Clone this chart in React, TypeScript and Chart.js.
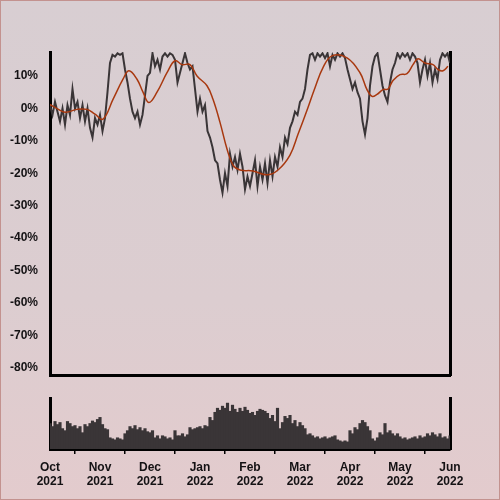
import React, { useEffect, useRef } from "react";
import { Chart, registerables } from "chart.js";

Chart.register(...registerables);

// month tick labels (x in month units from Oct 1 2021)
const MONTH_TICKS = [0, 1, 2, 3, 4, 5, 6, 7, 8];
const MONTHS = ["Oct", "Nov", "Dec", "Jan", "Feb", "Mar", "Apr", "May", "Jun"];
const YEARS = ["2021", "2021", "2021", "2022", "2022", "2022", "2022", "2022", "2022"];
const Y_TICKS = [10, 0, -10, -20, -30, -40, -50, -60, -70, -80];
const Y_MIN = -82.5;
const Y_MAX = 17.4;
const POINT_STEP = 0.05; // months between samples

// return series (%)
const RETURNS = [
  1, -2, 2, -1, -4, 0, -5, 1, -2, 6,
  0, 2, -3, 1, -4, 0, -6, -9, -3, -5,
  -2, -7, -3, 5, 14, 16.5, 16, 17, 16.5, 17,
  12, 8, 3, -1, -3, -1, -5, -2, 4, 10,
  11, 17, 13, 15, 12, 16, 17, 16, 17, 16.5,
  15, 8, 11, 14, 17, 14, 12, 13, 6, -1,
  3, -1, 1, -7, -9, -12, -16, -17, -22, -26,
  -20, -24, -14, -18, -15, -19, -14, -18, -25, -21,
  -24, -20, -16, -24, -18, -22, -17, -23, -16, -21,
  -15, -18, -12, -15, -9, -11, -6, -4, -1, -2,
  2, 3, 6, 12, 16.5, 17, 15, 17, 16, 17,
  15.5, 17, 13, 16.5, 15, 17, 16, 17, 15.5, 12,
  9, 6, 8, 5, 3, -4, -8, -3, 7, 13,
  16, 17, 12, 7, 4, 2, 8, 12, 14, 17,
  15.5, 17, 16, 17, 15, 17, 16, 14, 8, 12,
  15, 10, 14, 8, 12, 9, 15, 17, 16, 17,
  14,
];

// moving average (%)
const AVG_X = [
  0, 0.1, 0.3, 0.54, 0.74, 0.9, 1.06, 1.26, 1.46, 1.58,
  1.74, 1.86, 1.98, 2.14, 2.34, 2.5, 2.64, 2.8, 2.94, 3.14,
  3.26, 3.4, 3.54, 3.66, 3.8, 4.06, 4.34, 4.56, 4.8, 4.96,
  5.16, 5.3, 5.46, 5.64, 5.94, 6.2, 6.34, 6.44, 6.54, 6.66,
  6.76, 6.86, 7.0, 7.14, 7.26, 7.36, 7.5, 7.66, 7.76, 7.86,
  7.96,
];
const AVG_Y = [
  1.2, 0.3, -1.2, -0.3, -0.3, -1.8, -3.3, 2.8, 9, 11.6,
  9, 5, 1.8, 5, 11, 14.7, 13.5, 13.5, 10, 7,
  2.8, -4.3, -12.5, -17.5, -19, -19.3, -20.5, -19, -14.4, -8,
  0.3, 6.4, 12.6, 16.2, 15.6, 11, 5.8, 3.7, 4.3, 5.8,
  6, 8.6, 10.4, 10.7, 13.5, 15.3, 14, 13.5, 12, 11.6,
  13,
];

// volume (relative, 0-100)
const VOLUME = [
  50, 44, 54, 48, 52, 40, 36, 54, 50, 44,
  46, 40, 44, 32, 48, 44, 50, 55, 52, 58,
  62, 48, 40, 38, 22, 20, 18, 22, 20, 18,
  30, 36, 44, 40, 46, 38, 42, 36, 40, 34,
  32, 36, 22, 26, 20, 26, 24, 20, 22, 18,
  36, 26, 26, 30, 24, 28, 42, 38, 40, 42,
  44, 40, 46, 44, 62, 56, 72, 80, 76, 84,
  80, 90, 74, 86, 78, 72, 80, 74, 82, 76,
  70, 72, 66, 74, 78, 76, 74, 70, 60, 66,
  54, 80, 40, 52, 64, 60, 66, 50, 56, 44,
  52, 46, 40, 28, 30, 26, 22, 24, 20, 22,
  24, 20, 22, 24, 26, 18, 16, 14, 16, 14,
  36, 30, 42, 38, 50, 56, 52, 44, 36, 20,
  16, 22, 32, 28, 50, 32, 36, 30, 26, 30,
  24, 20, 22, 18, 20, 22, 24, 20, 26, 22,
  24, 30, 26, 32, 28, 24, 30, 22, 24, 20,
  26,
];

const FONT = { family: "'Liberation Sans', Arial, sans-serif", size: 12, weight: "bold" as const };
const TEXT = "#141214";
const DARK = "#3a3537";
const RED = "#a8380f";

const fixWidth = (w: number) => (s: any) => {
  s.width = w;
};

export default function App() {
  const mainRef = useRef<HTMLCanvasElement>(null);
  const volRef = useRef<HTMLCanvasElement>(null);

  useEffect(() => {
    const main = new Chart(mainRef.current!, {
      type: "line",
      data: {
        datasets: [
          {
            data: RETURNS.map((v, i) => ({ x: i * POINT_STEP, y: v })),
            borderColor: DARK,
            borderWidth: 2,
            pointRadius: 0,
            tension: 0,
            order: 2,
          },
          {
            data: AVG_X.map((x, i) => ({ x, y: AVG_Y[i] })),
            borderColor: RED,
            borderWidth: 1.5,
            pointRadius: 0,
            tension: 0.4,
            order: 1,
          },
        ],
      },
      options: {
        responsive: false,
        animation: false,
        layout: { padding: { top: 52, bottom: 0, left: 0, right: 0 } },
        plugins: { legend: { display: false }, tooltip: { enabled: false } },
        scales: {
          x: {
            type: "linear",
            min: 0,
            max: 8,
            ticks: { display: false },
            grid: { display: false, drawTicks: false },
            border: { display: true, color: "#000", width: 3 },
            afterFit: (s: any) => {
              s.height = 0;
            },
          },
          y: {
            position: "left",
            min: Y_MIN,
            max: Y_MAX,
            afterBuildTicks: (s: any) => {
              s.ticks = Y_TICKS.map((v) => ({ value: v }));
            },
            ticks: {
              font: FONT,
              color: TEXT,
              padding: 12,
              callback: (v: any) => `${v}%`,
            },
            grid: { display: false, drawTicks: false },
            border: { display: true, color: "#000", width: 3 },
            afterFit: fixWidth(50),
          },
          y2: {
            position: "right",
            min: Y_MIN,
            max: Y_MAX,
            ticks: { display: false },
            grid: { display: false, drawTicks: false },
            border: { display: true, color: "#000", width: 3 },
            afterFit: fixWidth(50),
          },
        },
      },
    });

    const vol = new Chart(volRef.current!, {
      type: "bar",
      data: {
        datasets: [
          {
            data: VOLUME.map((v, i) => ({ x: i * POINT_STEP, y: v })),
            backgroundColor: DARK,
            borderWidth: 0,
            barPercentage: 1,
            categoryPercentage: 1,
          },
        ],
      },
      options: {
        responsive: false,
        animation: false,
        layout: { padding: { top: 13, bottom: 0, left: 0, right: 0 } },
        plugins: { legend: { display: false }, tooltip: { enabled: false } },
        scales: {
          x: {
            type: "linear",
            min: 0,
            max: 8,
            offset: false,
            afterBuildTicks: (s: any) => {
              s.ticks = MONTH_TICKS.map((v) => ({ value: v }));
            },
            ticks: {
              font: FONT,
              color: TEXT,
              padding: 6,
              maxRotation: 0,
              autoSkip: false,
              callback: (v: any) => [MONTHS[v], YEARS[v]],
            },
            grid: {
              display: true,
              drawOnChartArea: false,
              drawTicks: true,
              tickLength: 5,
              color: "#000",
              lineWidth: 1.5,
            },
            border: { display: true, color: "#000", width: 3 },
            afterFit: (s: any) => {
              s.height = 51;
            },
          },
          y: {
            position: "left",
            min: 0,
            max: 100,
            ticks: { display: false },
            grid: { display: false, drawTicks: false },
            border: { display: true, color: "#000", width: 3 },
            afterFit: fixWidth(50),
          },
          y2: {
            position: "right",
            min: 0,
            max: 100,
            ticks: { display: false },
            grid: { display: false, drawTicks: false },
            border: { display: true, color: "#000", width: 3 },
            afterFit: fixWidth(50),
          },
        },
      },
    });

    return () => {
      main.destroy();
      vol.destroy();
    };
  }, []);

  return (
    <div
      style={{
        position: "absolute",
        left: 0,
        top: 0,
        width: 500,
        height: 500,
        background: "linear-gradient(to bottom, #d8ced2 0%, #dccdd0 60%, #e3cbcd 100%)",
        boxShadow: "inset 0 0 0 1px #c3928f",
      }}
    >
      <canvas
        ref={mainRef}
        width={500}
        height={395}
        style={{ position: "absolute", left: 0, top: 0, width: 500, height: 395 }}
      />
      <canvas
        ref={volRef}
        width={500}
        height={115}
        style={{ position: "absolute", left: 0, top: 385, width: 500, height: 115 }}
      />
    </div>
  );
}
